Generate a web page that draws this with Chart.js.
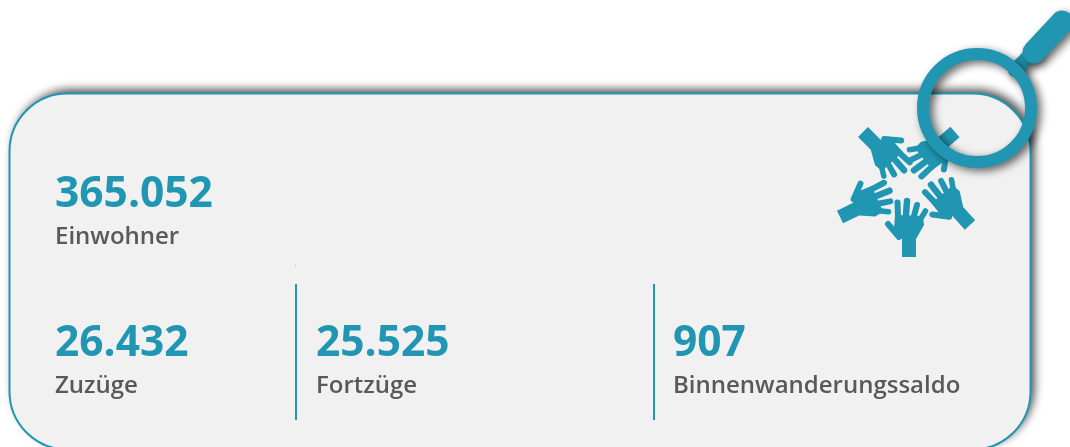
<!DOCTYPE html>
<html lang="de">
<head>
<meta charset="utf-8">
<title>Einwohner und Wanderungen</title>
<script src="https://cdn.jsdelivr.net/npm/chart.js@4"></script>
<style>
  html, body { margin: 0; padding: 0; background: #fff; overflow: hidden; }
  canvas { display: block; }
</style>
</head>
<body>
<canvas id="kpiChart" width="1070" height="447"></canvas>
<script>
// KPI values and their captions
const kpiValues = [365052, 26432, 25525, 907];
const kpiLabels = ['Einwohner', 'Zuzüge', 'Fortzüge', 'Binnenwanderungssaldo'];

// Layout, in page pixels (the hidden scales run 0..1070 and 0..447)
const kpiX = [55, 55, 316, 673];
const kpiY = [207, 356, 356, 356];
const dividerX = [296, 654];
const dividerY = [284, 420];

// Hand icon: wrist position and rotation in degrees for each hand
const handX = [909, 970, 840, 863, 955];
const handY = [257, 225, 217, 132, 132];
const handAngle = [0, -42, 64, 135, 229];

const teal = '#2196b3';
const grey = '#595959';

function drawPanel(ctx) {
  ctx.save();
  ctx.beginPath();
  ctx.roundRect(9.5, 93.5, 1021, 356, 58);
  ctx.shadowColor = 'rgba(0,0,0,0.7)';
  ctx.shadowBlur = 10;
  ctx.shadowOffsetX = 4;
  ctx.shadowOffsetY = -4;
  ctx.fillStyle = '#f1f1f1';
  ctx.fill();
  ctx.shadowColor = 'transparent';
  ctx.strokeStyle = teal;
  ctx.lineWidth = 2;
  ctx.stroke();
  ctx.restore();
  // the small mark above the first divider
  ctx.fillStyle = 'rgba(33,150,179,0.2)';
  ctx.fillRect(295, 264, 1, 3);
}

// One hand, wrist at 0,0 and fingers pointing up
function drawHand(ctx) {
  ctx.fillStyle = teal;
  ctx.strokeStyle = teal;
  ctx.lineCap = 'round';
  ctx.beginPath();
  ctx.moveTo(-7, 0);
  ctx.lineTo(-7, -18);
  ctx.lineTo(-15, -28);
  ctx.lineTo(-14, -42);
  ctx.lineTo(14, -41);
  ctx.lineTo(15, -32);
  ctx.lineTo(7, -18);
  ctx.lineTo(7, 0);
  ctx.closePath();
  ctx.fill();
  const fingers = [
    [-11, -40, -11.5, -54.5, 6],
    [-3, -42, -2, -56, 6.5],
    [5, -41, 8, -52, 6],
    [11, -37, 16.5, -46, 5.5],
    [-10, -20, -21, -33, 6]
  ];
  fingers.forEach(f => {
    ctx.lineWidth = f[4];
    ctx.beginPath();
    ctx.moveTo(f[0], f[1]);
    ctx.lineTo(f[2], f[3]);
    ctx.stroke();
  });
}

function drawHands(ctx) {
  handX.forEach((x, i) => {
    ctx.save();
    ctx.translate(x, handY[i]);
    ctx.rotate(handAngle[i] * Math.PI / 180);
    drawHand(ctx);
    ctx.restore();
  });
}

function drawLens(ctx) {
  ctx.save();
  ctx.shadowColor = 'rgba(0,0,0,0.6)';
  ctx.shadowBlur = 8;
  ctx.shadowOffsetX = 4;
  ctx.shadowOffsetY = 3;
  ctx.strokeStyle = teal;
  ctx.lineCap = 'round';
  // handle
  ctx.lineWidth = 14;
  ctx.beginPath();
  ctx.moveTo(1015, 70);
  ctx.lineTo(1033, 52);
  ctx.stroke();
  ctx.lineWidth = 23;
  ctx.beginPath();
  ctx.moveTo(1034, 52);
  ctx.lineTo(1062, 22);
  ctx.stroke();
  // ring
  ctx.lineCap = 'butt';
  ctx.lineWidth = 12;
  ctx.beginPath();
  ctx.arc(977, 108, 54, 0, Math.PI * 2);
  ctx.stroke();
  ctx.restore();
}

const infographic = {
  id: 'infographic',
  beforeDatasetsDraw(chart) {
    drawPanel(chart.ctx);
    drawHands(chart.ctx);
  },
  afterDatasetsDraw(chart) {
    const ctx = chart.ctx;
    const points = chart.getDatasetMeta(0).data;
    ctx.save();
    ctx.textAlign = 'left';
    ctx.textBaseline = 'alphabetic';
    points.forEach((pt, i) => {
      ctx.font = '700 42.5px "Open Sans"';
      ctx.fillStyle = teal;
      ctx.fillText(kpiValues[i].toLocaleString('de-DE'), pt.x, pt.y);
      ctx.font = '600 24px "Open Sans"';
      ctx.fillStyle = grey;
      ctx.fillText(kpiLabels[i], pt.x, pt.y + 37);
    });
    ctx.restore();
    drawLens(ctx);
  }
};

new Chart(document.getElementById('kpiChart').getContext('2d'), {
  type: 'scatter',
  data: {
    datasets: [
      {
        label: 'Kennzahlen',
        data: kpiValues.map((v, i) => ({ x: kpiX[i], y: kpiY[i] })),
        pointRadius: 0
      },
      ...dividerX.map(x => ({
        label: 'Trenner',
        type: 'line',
        data: dividerY.map(y => ({ x: x, y: y })),
        borderColor: teal,
        borderWidth: 2,
        pointRadius: 0
      }))
    ]
  },
  options: {
    responsive: false,
    animation: false,
    layout: { padding: 0 },
    plugins: { legend: { display: false }, tooltip: { enabled: false } },
    scales: {
      x: { type: 'linear', display: false, min: 0, max: 1070 },
      y: { type: 'linear', display: false, min: 0, max: 447, reverse: true }
    }
  },
  plugins: [infographic]
});
</script>
</body>
</html>
